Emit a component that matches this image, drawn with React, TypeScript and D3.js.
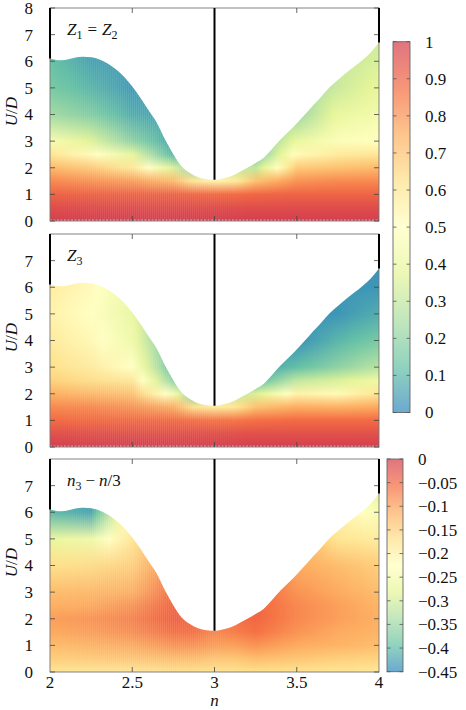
import React from 'react'
import * as d3 from 'd3'

// grid of the colour fields: columns are n, rows are U/D
const nGrid = [2, 2.25, 2.5, 2.75, 2.875, 3, 3.125, 3.25, 3.5, 3.75, 4]
const uGrid = [0, 0.5, 1, 1.5, 2, 2.5, 3, 4, 5, 6, 7, 8]

// upper edge of the computed region
const boundaryN = [2.0, 2.05, 2.1, 2.15, 2.2, 2.25, 2.3, 2.35, 2.4, 2.45, 2.5, 2.55, 2.6, 2.65, 2.7, 2.75, 2.8, 2.85, 2.9, 2.95, 3.0,
  3.05, 3.1, 3.15, 3.2, 3.25, 3.3, 3.35, 3.4, 3.45, 3.5, 3.55, 3.6, 3.65, 3.7, 3.75, 3.8, 3.85, 3.9, 3.95, 4.0]
const boundaryU = [6.1, 6.04, 6.06, 6.13, 6.17, 6.15, 6.07, 5.92, 5.7, 5.42, 5.05, 4.62, 4.15, 3.68, 3.05, 2.5, 2.05, 1.8, 1.64, 1.57, 1.55,
  1.6, 1.68, 1.83, 2.0, 2.18, 2.38, 2.7, 3.05, 3.35, 3.66, 4.0, 4.35, 4.68, 5.02, 5.3, 5.56, 5.8, 6.05, 6.33, 6.7]

const z12Rows = [
  [1, 1, 1, 1, 1, 1, 1, 1, 1, 1, 1],
  [0.96, 0.96, 0.96, 0.96, 0.96, 0.96, 0.96, 0.96, 0.96, 0.96, 0.96],
  [0.9, 0.9, 0.9, 0.9, 0.89, 0.88, 0.88, 0.89, 0.9, 0.9, 0.9],
  [0.82, 0.8, 0.78, 0.72, 0.6, 0.55, 0.58, 0.7, 0.8, 0.82, 0.82],
  [0.72, 0.68, 0.6, 0.35, 0.2, 0.4, 0.3, 0.3, 0.68, 0.7, 0.72],
  [0.6, 0.52, 0.38, 0.1, 0.15, 0.3, 0.2, 0.15, 0.52, 0.58, 0.6],
  [0.46, 0.36, 0.2, 0.06, 0.15, 0.3, 0.2, 0.15, 0.4, 0.48, 0.5],
  [0.24, 0.18, 0.08, 0.05, 0.15, 0.3, 0.2, 0.15, 0.22, 0.4, 0.44],
  [0.16, 0.1, 0.04, 0.05, 0.15, 0.3, 0.2, 0.15, 0.22, 0.32, 0.39],
  [0.13, 0.06, 0.04, 0.05, 0.15, 0.3, 0.2, 0.15, 0.22, 0.3, 0.35],
  [0.13, 0.06, 0.04, 0.05, 0.15, 0.3, 0.2, 0.15, 0.22, 0.3, 0.32],
  [0.13, 0.06, 0.04, 0.05, 0.15, 0.3, 0.2, 0.15, 0.22, 0.3, 0.32],
]

const z3Rows = [
  [1, 1, 1, 1, 1, 1, 1, 1, 1, 1, 1],
  [0.95, 0.95, 0.95, 0.95, 0.95, 0.95, 0.95, 0.95, 0.95, 0.95, 0.95],
  [0.88, 0.88, 0.88, 0.88, 0.87, 0.86, 0.86, 0.87, 0.88, 0.88, 0.88],
  [0.82, 0.82, 0.8, 0.75, 0.62, 0.58, 0.6, 0.7, 0.75, 0.74, 0.76],
  [0.74, 0.72, 0.7, 0.45, 0.15, 0.4, 0.3, 0.35, 0.55, 0.52, 0.6],
  [0.66, 0.63, 0.6, 0.2, 0.12, 0.35, 0.2, 0.1, 0.3, 0.35, 0.42],
  [0.62, 0.58, 0.5, 0.12, 0.1, 0.35, 0.2, 0.05, 0.12, 0.2, 0.28],
  [0.58, 0.53, 0.42, 0.1, 0.1, 0.35, 0.2, 0.05, 0.02, 0.1, 0.16],
  [0.55, 0.5, 0.4, 0.1, 0.1, 0.35, 0.2, 0.05, 0.02, 0.03, 0.08],
  [0.57, 0.52, 0.4, 0.1, 0.1, 0.35, 0.2, 0.05, 0.02, 0.03, 0.03],
  [0.57, 0.52, 0.4, 0.1, 0.1, 0.35, 0.2, 0.05, 0.02, 0.03, 0.02],
  [0.57, 0.52, 0.4, 0.1, 0.1, 0.35, 0.2, 0.05, 0.02, 0.03, 0.02],
]

const n3Rows = [
  [-0.18, -0.18, -0.18, -0.17, -0.17, -0.175, -0.175, -0.17, -0.175, -0.18, -0.185],
  [-0.15, -0.145, -0.14, -0.13, -0.13, -0.14, -0.14, -0.13, -0.14, -0.15, -0.155],
  [-0.13, -0.12, -0.11, -0.09, -0.09, -0.1, -0.1, -0.09, -0.11, -0.12, -0.13],
  [-0.11, -0.1, -0.085, -0.06, -0.06, -0.08, -0.07, -0.06, -0.09, -0.11, -0.12],
  [-0.1, -0.09, -0.075, -0.045, -0.05, -0.08, -0.06, -0.05, -0.08, -0.1, -0.115],
  [-0.115, -0.11, -0.09, -0.05, -0.05, -0.08, -0.06, -0.05, -0.08, -0.1, -0.12],
  [-0.13, -0.125, -0.115, -0.06, -0.05, -0.08, -0.06, -0.05, -0.09, -0.11, -0.13],
  [-0.17, -0.165, -0.15, -0.08, -0.05, -0.08, -0.06, -0.05, -0.11, -0.13, -0.15],
  [-0.27, -0.26, -0.18, -0.08, -0.05, -0.08, -0.06, -0.05, -0.11, -0.18, -0.19],
  [-0.4, -0.42, -0.2, -0.08, -0.05, -0.08, -0.06, -0.05, -0.11, -0.2, -0.24],
  [-0.42, -0.44, -0.2, -0.08, -0.05, -0.08, -0.06, -0.05, -0.11, -0.2, -0.29],
  [-0.42, -0.44, -0.2, -0.08, -0.05, -0.08, -0.06, -0.05, -0.11, -0.2, -0.29],
]

const xTicks = [2, 2.5, 3, 3.5, 4]
const xTickLabels = ['2', '2.5', '3', '3.5', '4']
const markN = [2, 3, 4]
const bar1Ticks = [0, 0.1, 0.2, 0.3, 0.4, 0.5, 0.6, 0.7, 0.8, 0.9, 1]
const bar1Labels = ['0', '0.1', '0.2', '0.3', '0.4', '0.5', '0.6', '0.7', '0.8', '0.9', '1']
const bar2Ticks = [0, -0.05, -0.1, -0.15, -0.2, -0.25, -0.3, -0.35, -0.4, -0.45]
const bar2Labels = ['0', '\u22120.05', '\u22120.1', '\u22120.15', '\u22120.2', '\u22120.25', '\u22120.3', '\u22120.35', '\u22120.4', '\u22120.45']

const spectral = ['#3288bd', '#66c2a5', '#abdda4', '#e6f598', '#ffffbf', '#fee08b', '#fdae61', '#f46d43', '#d53e4f']

const txt: React.CSSProperties = { fontFamily: "'Liberation Serif', 'DejaVu Serif', serif", fontSize: 17 }
const X0 = 50
const X1 = 379
const PH = 213
const NCOL = 164

const cmap = d3.scaleLinear<string>()
  .domain(spectral.map((_, i) => i / (spectral.length - 1)))
  .range(spectral)
  .interpolate(d3.interpolateRgb)
  .clamp(true)

const x = d3.scaleLinear().domain([2, 4]).range([X0, X1])
const bnd = d3.scaleLinear().domain(boundaryN).range(boundaryU)

type PanelProps = {
  id: string
  top: number
  rows: number[][]
  vmin: number
  vmax: number
  yTicks: number[]
  label: React.ReactNode
  last: boolean
}

const Panel = ({ id, top, rows, vmin, vmax, yTicks, label, last }: PanelProps) => {
  const y = d3.scaleLinear().domain([0, 8]).range([top + PH, top])
  const rowFns = rows.map((r) => d3.scaleLinear().domain(nGrid).range(r))
  const norm = (v: number) => (v - vmin) / (vmax - vmin)
  const area = d3.area<number>()
    .x((_, i) => x(boundaryN[i]))
    .y0(y(0))
    .y1((d) => y(d))
    .curve(d3.curveMonotoneX)(boundaryU) || ''
  const step = 2 / NCOL
  const cols = d3.range(NCOL).map((i) => {
    const n = 2 + (i + 0.5) * step
    return { i, n0: 2 + i * step, vals: rowFns.map((f) => f(n)) }
  })
  const tickC = '#444'
  return (
    <g>
      <defs>
        <clipPath id={`clip-${id}`}><path d={area} /></clipPath>
        {cols.map((c) => (
          <linearGradient key={c.i} id={`g-${id}-${c.i}`} gradientUnits="userSpaceOnUse" x1={0} x2={0} y1={y(0)} y2={y(8)}>
            {uGrid.map((u, k) => (
              <stop key={k} offset={u / 8} stopColor={cmap(norm(c.vals[k]))} />
            ))}
          </linearGradient>
        ))}
      </defs>
      <g clipPath={`url(#clip-${id})`}>
        {cols.map((c) => (
          <rect key={c.i} x={x(c.n0)} y={y(8)} width={x(2 + step) - x(2) + 0.4} height={y(0) - y(8)} fill={`url(#g-${id}-${c.i})`} />
        ))}
      </g>
      {!last && (
        <line x1={X0} x2={X1} y1={y(0) - 0.8} y2={y(0) - 0.8} stroke="#fff" strokeWidth={0.7} strokeDasharray="2 1.5" />
      )}
      <rect x={X0} y={top} width={X1 - X0} height={PH} fill="none" stroke="#777" strokeWidth={0.9} />
      {yTicks.map((t) => (
        <g key={t}>
          <line x1={X0} x2={X0 + 5} y1={y(t)} y2={y(t)} stroke={tickC} strokeWidth={0.8} />
          <line x1={X1} x2={X1 - 5} y1={y(t)} y2={y(t)} stroke={tickC} strokeWidth={0.8} />
          <text x={33} y={y(t)} dy="0.35em" textAnchor="end" style={txt} fill="#111">{t}</text>
        </g>
      ))}
      {xTicks.slice(1, -1).map((t) => (
        <g key={t}>
          <line x1={x(t)} x2={x(t)} y1={top} y2={top + 5} stroke={tickC} strokeWidth={0.8} />
          <line x1={x(t)} x2={x(t)} y1={top + PH} y2={top + PH - 5} stroke={tickC} strokeWidth={0.8} />
        </g>
      ))}
      {markN.map((m) => (
        <line key={m} x1={x(m)} x2={x(m)} y1={top} y2={y(bnd(m))} stroke="#000" strokeWidth={2} />
      ))}
      <text x={11} y={top + PH / 2 - 3} transform={`rotate(-90 11 ${top + PH / 2 - 3})`} dy="0.35em" textAnchor="middle"
        style={txt} fill="#111">
        <tspan fontStyle="italic">U</tspan>/<tspan fontStyle="italic">D</tspan>
      </text>
      <text x={67} y={top + 27} style={txt} fill="#111">{label}</text>
      {last && xTicks.map((t, i) => (
        <text key={t} x={x(t)} y={top + PH + 16} textAnchor="middle" style={txt} fill="#111">{xTickLabels[i]}</text>
      ))}
      {last && (
        <text x={x(3)} y={top + PH + 33.5} textAnchor="middle" fontStyle="italic" style={txt} fill="#111">n</text>
      )}
    </g>
  )
}

type BarProps = { id: string; x0: number; w: number; yTop: number; yBot: number; vmin: number; vmax: number; ticks: number[]; labels: string[]; lx: number }

const ColorBar = ({ id, x0, w, yTop, yBot, vmin, vmax, ticks, labels, lx }: BarProps) => {
  const y = d3.scaleLinear().domain([vmin, vmax]).range([yBot, yTop])
  return (
    <g>
      <defs>
        <linearGradient id={id} x1={0} x2={0} y1={1} y2={0}>
          {spectral.map((c, i) => <stop key={i} offset={i / (spectral.length - 1)} stopColor={c} />)}
        </linearGradient>
      </defs>
      <rect x={x0} y={yTop} width={w} height={yBot - yTop} fill={`url(#${id})`} opacity={0.72} />
      <rect x={x0} y={yTop} width={w} height={yBot - yTop} fill="none" stroke="#666" strokeWidth={0.9} />
      {ticks.map((t, i) => (
        <g key={i}>
          <line x1={x0} x2={x0 + 3.5} y1={y(t)} y2={y(t)} stroke="#555" strokeWidth={0.8} />
          <line x1={x0 + w} x2={x0 + w - 3.5} y1={y(t)} y2={y(t)} stroke="#555" strokeWidth={0.8} />
          <text x={lx} y={y(t)} dy="0.35em" style={txt} fill="#111">{labels[i]}</text>
        </g>
      ))}
    </g>
  )
}

const App = () => {
  const sub = (s: string) => <tspan dy={4} fontSize={12}>{s}</tspan>
  return (
    <svg width={466} height={710} style={{ position: 'absolute', left: 0, top: 0, background: '#fff' }}>
      <Panel id="p1" top={8} rows={z12Rows} vmin={0} vmax={1} yTicks={[0, 1, 2, 3, 4, 5, 6, 7, 8]} last={false}
        label={<><tspan fontStyle="italic">Z</tspan>{sub('1')}<tspan dy={-4} dx={5}>=</tspan><tspan dx={5} fontStyle="italic">Z</tspan>{sub('2')}</>} />
      <Panel id="p2" top={234} rows={z3Rows} vmin={0} vmax={1} yTicks={[0, 1, 2, 3, 4, 5, 6, 7]} last={false}
        label={<><tspan fontStyle="italic">Z</tspan>{sub('3')}</>} />
      <Panel id="p3" top={459} rows={n3Rows} vmin={-0.45} vmax={0} yTicks={[0, 1, 2, 3, 4, 5, 6, 7]} last
        label={<><tspan fontStyle="italic">n</tspan>{sub('3')}<tspan dy={-4} dx={4}>{'\u2212'}</tspan><tspan dx={4} fontStyle="italic">n</tspan>/3</>} />
      <ColorBar id="cb1" x0={393} w={17} yTop={41.7} yBot={412.5} vmin={0} vmax={1} ticks={bar1Ticks} labels={bar1Labels} lx={425} />
      <ColorBar id="cb2" x0={387} w={16} yTop={459} yBot={671.7} vmin={-0.45} vmax={0} ticks={bar2Ticks} labels={bar2Labels} lx={418} />
    </svg>
  )
}

export default App
